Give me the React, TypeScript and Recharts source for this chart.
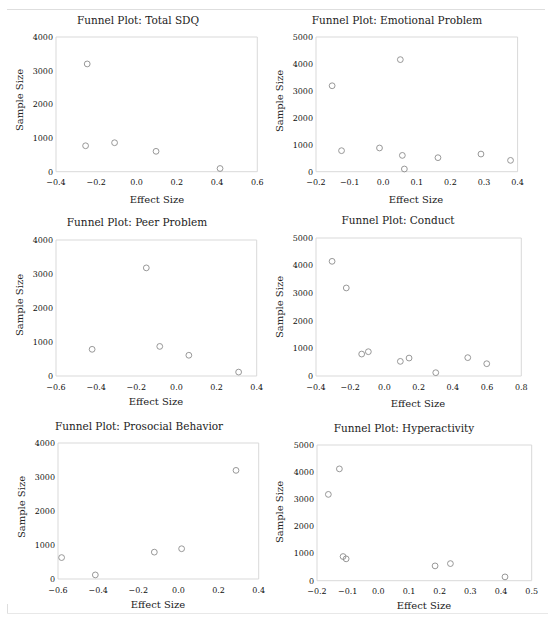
import { ScatterChart, Scatter, XAxis, YAxis, ReferenceArea } from "recharts";

const FONT = '"DejaVu Serif", "Liberation Serif", serif';

const titles = [
  "Funnel Plot: Total SDQ",
  "Funnel Plot: Emotional Problem",
  "Funnel Plot: Peer Problem",
  "Funnel Plot: Conduct",
  "Funnel Plot: Prosocial Behavior",
  "Funnel Plot: Hyperactivity",
];

// effect sizes and sample sizes
const totalEffect = [-0.245, -0.253, -0.109, 0.097, 0.415];
const totalSize = [3200, 770, 860, 605, 95];

const emotionalEffect = [-0.152, -0.124, -0.011, 0.051, 0.057, 0.063, 0.163, 0.291, 0.379];
const emotionalSize = [3190, 780, 880, 4160, 605, 100, 520, 655, 420];

const peerEffect = [-0.42, -0.15, -0.083, 0.062, 0.31];
const peerSize = [785, 3180, 870, 610, 115];

const conductEffect = [-0.306, -0.223, -0.133, -0.094, 0.093, 0.144, 0.3, 0.487, 0.598];
const conductSize = [4155, 3190, 795, 880, 530, 650, 120, 665, 445];

const prosocialEffect = [-0.582, -0.414, -0.12, 0.016, 0.287];
const prosocialSize = [630, 120, 790, 890, 3195];

const hyperEffect = [-0.163, -0.127, -0.115, -0.105, 0.185, 0.235, 0.413];
const hyperSize = [3180, 4120, 890, 805, 545, 630, 140];

// tick values
const xTicksA = [-0.4, -0.2, 0, 0.2, 0.4, 0.6];
const xTicksB = [-0.2, -0.1, 0, 0.1, 0.2, 0.3, 0.4];
const xTicksC = [-0.6, -0.4, -0.2, 0, 0.2, 0.4];
const xTicksD = [-0.4, -0.2, 0, 0.2, 0.4, 0.6, 0.8];
const xTicksE = [-0.2, -0.1, 0, 0.1, 0.2, 0.3, 0.4, 0.5];
const yTicks4 = [0, 1000, 2000, 3000, 4000];
const yTicks5 = [0, 1000, 2000, 3000, 4000, 5000];

const panels = [
  { title: titles[0], effect: totalEffect, size: totalSize, xTicks: xTicksA, yTicks: yTicks4,
    box: [56, 37.3, 257.3, 172], t: [138, 20], xl: [157, 200], yl: [20, 100] },
  { title: titles[1], effect: emotionalEffect, size: emotionalSize, xTicks: xTicksB, yTicks: yTicks5,
    box: [315.7, 37.3, 517.3, 172], t: [397, 19.5], xl: [416, 200], yl: [280, 101] },
  { title: titles[2], effect: peerEffect, size: peerSize, xTicks: xTicksC, yTicks: yTicks4,
    box: [56, 239.7, 256.7, 375.7], t: [137, 221.5], xl: [156, 401.5], yl: [20, 305] },
  { title: titles[3], effect: conductEffect, size: conductSize, xTicks: xTicksD, yTicks: yTicks5,
    box: [315.7, 238.3, 521, 376.3], t: [398, 220], xl: [418, 404], yl: [280, 307] },
  { title: titles[4], effect: prosocialEffect, size: prosocialSize, xTicks: xTicksC, yTicks: yTicks4,
    box: [58, 443.3, 258.7, 579.3], t: [139, 425.5], xl: [158, 605], yl: [21.5, 507] },
  { title: titles[5], effect: hyperEffect, size: hyperSize, xTicks: xTicksE, yTicks: yTicks5,
    box: [317, 445.3, 531.7, 581], t: [404, 428], xl: [424, 606], yl: [280, 512] },
];

const fmtX = (v: number) => v.toFixed(1).replace("-", "\u2212");

const Ring = (props: any) => (
  <circle cx={props.cx} cy={props.cy} r={2.9} fill="none" stroke="#8c8c8c" strokeWidth={0.9} />
);

function Text({ x, y, children, rotate, size }: { x: number; y: number; children: string; rotate?: boolean; size?: number }) {
  return (
    <div
      style={{
        position: "absolute",
        left: x,
        top: y,
        transform: `translate(-50%, -50%)${rotate ? " rotate(-90deg)" : ""}`,
        whiteSpace: "nowrap",
        fontFamily: FONT,
        fontSize: size ?? 10.5,
        lineHeight: 1,
        color: "#222",
      }}
    >
      {children}
    </div>
  );
}

function FunnelPanel({ p }: { p: (typeof panels)[number] }) {
  const [x0, y0, x1, y1] = p.box;
  const data = p.effect.map((e, i) => ({ effect: e, size: p.size[i] }));
  const xMin = p.xTicks[0];
  const xMax = p.xTicks[p.xTicks.length - 1];
  const yMax = p.yTicks[p.yTicks.length - 1];
  const tick = { fontSize: 8, fill: "#111", fontFamily: FONT };
  return (
    <>
      <div style={{ position: "absolute", left: x0 - 50, top: y0 - 10 }}>
        <ScatterChart
          width={x1 - x0 + 65}
          height={y1 - y0 + 45}
          margin={{ top: 10, right: 15, bottom: 5, left: 0 }}
        >
          <XAxis
            type="number"
            dataKey="effect"
            domain={[xMin, xMax]}
            ticks={p.xTicks}
            tickFormatter={fmtX}
            axisLine={false}
            tickLine={false}
            tick={tick}
            height={30}
            interval={0}
          />
          <YAxis
            type="number"
            dataKey="size"
            domain={[0, yMax]}
            ticks={p.yTicks}
            axisLine={false}
            tickLine={false}
            tickSize={3}
            tickMargin={0}
            tick={tick}
            width={50}
            interval={0}
          />
          <ReferenceArea x1={xMin} x2={xMax} y1={0} y2={yMax} fill="none" stroke="#d9d9d9" />
          <Scatter data={data} shape={Ring} isAnimationActive={false} />
        </ScatterChart>
      </div>
      <Text x={p.t[0]} y={p.t[1]}>{p.title}</Text>
      <Text x={p.xl[0]} y={p.xl[1]} size={10}>Effect Size</Text>
      <Text x={p.yl[0]} y={p.yl[1]} size={10} rotate>Sample Size</Text>
    </>
  );
}

export default function App() {
  return (
    <div style={{ position: "absolute", left: 0, top: 0, width: 550, height: 622, background: "#fff" }}>
      <div style={{ position: "absolute", left: 7, top: 9, width: 538, borderTop: "1px solid #dedede" }} />
      <div style={{ position: "absolute", left: 7, top: 613, width: 541, borderTop: "1px solid #e8e8e8" }} />
      <div style={{ position: "absolute", left: 7, top: 604, height: 9, borderLeft: "1px solid #dedede" }} />
      {panels.map((p) => (
        <FunnelPanel key={p.title} p={p} />
      ))}
    </div>
  );
}
